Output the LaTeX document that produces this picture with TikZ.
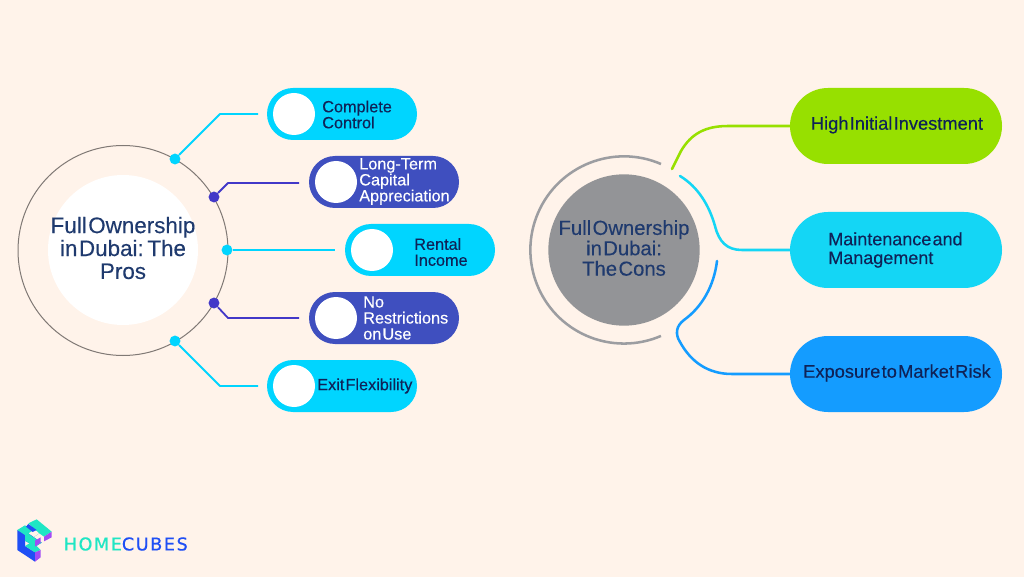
\documentclass[tikz,border=0pt]{standalone}
\usepackage{fontspec}
\setmainfont[WordSpace=0.25,FakeBold=0.25]{Liberation Sans}
\newfontfamily\logofont[LetterSpace=9,FakeBold=0.6]{DejaVu Sans}
\definecolor{bgc}{HTML}{FFF3EA}
\definecolor{cyanc}{HTML}{00D5FF}
\definecolor{indigoc}{HTML}{3F4FBF}
\definecolor{dotind}{HTML}{4238C8}
\definecolor{navy}{HTML}{1F3A6E}
\definecolor{ink}{HTML}{0F2257}
\definecolor{greyc}{HTML}{939497}
\definecolor{arcc}{HTML}{9C9DA1}
\definecolor{limec}{HTML}{97E000}
\definecolor{skyc}{HTML}{14D6F5}
\definecolor{bluec}{HTML}{149CFF}
\definecolor{teal}{HTML}{1FE6C4}
\definecolor{royal}{HTML}{1F4FF5}
\definecolor{violet}{HTML}{A24BF5}
\newcommand{\fs}[2]{\fontsize{#1}{#2}\selectfont}
\tikzset{
 x=0.75pt,y=-0.75pt,
 pillshape/.style={rounded rectangle,draw=none,minimum width=112.5pt,minimum height=39pt,inner sep=0pt},
 bigpill/.style={rounded rectangle,draw=none,minimum width=159pt,minimum height=57pt,inner sep=0pt},
 knob/.style={circle,fill=white,draw=none,minimum size=31.5pt,inner sep=0pt},
 dotn/.style={circle,draw=none,minimum size=8.2pt,inner sep=0pt},
 conn/.style={line width=1.35pt,line join=round},
 curve/.style={line width=1.9pt,line cap=round},
 pilltext/.style={anchor=west,align=left,inner sep=0pt,font=\fs{12.2}{12}},
 bigtext/.style={align=left,inner sep=0pt,font=\fs{13.7}{14}},
 logoface/.style={draw=none},
}
\usetikzlibrary{shapes.misc}
\begin{document}
\begin{tikzpicture}
\fill[bgc] (0,0) rectangle (1024,577);
\useasboundingbox (0,0) rectangle (1024,577);
% left hub
\node[circle,draw=black!50!bgc,line width=0.75pt,minimum size=157.5pt,inner sep=0pt] (ring) at (123,250.5) {};
\node[circle,fill=white,minimum size=112.5pt,inner sep=0pt] (hubL) at (123,250) {};
\node[align=center,inner sep=0pt,text=navy,font=\fs{16.8}{17.2}] (hubLt) at (123,248)
 {Full Ownership\\in Dubai: The\\Pros};
% pills
\node[pillshape,fill=cyanc] (p1) at (342,114) {};
\node[pillshape,fill=indigoc] (p2) at (384,182) {};
\node[pillshape,fill=cyanc] (p3) at (420,250) {};
\node[pillshape,fill=indigoc] (p4) at (384,318) {};
\node[pillshape,fill=cyanc] (p5) at (342,386) {};
\node[knob] (k1) at (294,114) {};
\node[knob] (k2) at (336,182) {};
\node[knob] (k3) at (372,250) {};
\node[knob] (k4) at (336,318) {};
\node[knob] (k5) at (294,386) {};
\node[pilltext,text=ink] (t1) at (322,114.5) {Complete\\Control};
\node[pilltext,text=white] (t2) at (359,181.5) {Long-Term\\Capital\\Appreciation};
\node[pilltext,text=ink] (t3) at (414,252) {Rental\\Income};
\node[pilltext,text=white] (t4) at (363,318) {No\\Restrictions\\on Use};
\node[pilltext,text=ink] (t5) at (317,386) {Exit Flexibility};
% dots
\node[dotn,fill=cyanc] (d1) at (175,159) {};
\node[dotn,fill=dotind] (d2) at (214,197) {};
\node[dotn,fill=cyanc] (d3) at (227,250) {};
\node[dotn,fill=dotind] (d4) at (214,303) {};
\node[dotn,fill=cyanc] (d5) at (175,341) {};
\coordinate (e1) at (258,114);
\coordinate (e2) at (299,183);
\coordinate (e3) at (335,250);
\coordinate (e4) at (299,318);
\coordinate (e5) at (258,386);
\draw[conn,cyanc] (d1) -- (220,114) -- (e1);
\draw[conn,dotind] (d2) -- (228,183) -- (e2);
\draw[conn,cyanc] (d3) -- (e3);
\draw[conn,dotind] (d4) -- (228,318) -- (e4);
\draw[conn,cyanc] (d5) -- (220,386) -- (e5);
% right hub
\node[circle,fill=greyc,minimum size=113.5pt,inner sep=0pt] (hubR) at (624,250) {};
\node[align=center,inner sep=0pt,text=navy,font=\fs{15.2}{15.3}] (hubRt) at (624,248)
 {Full Ownership\\in Dubai:\\The Cons};
\draw[arcc,line width=1.9pt] (661,164) arc[start angle=-66.7,end angle=-293.3,radius=93.6];
\node[bigpill,fill=limec] (r1) at (896,126) {};
\node[bigpill,fill=skyc] (r2) at (896,250) {};
\node[bigpill,fill=bluec] (r3) at (896,374) {};
\node[bigtext,text=ink] (rt1) at (897,125) {High Initial Investment};
\node[bigtext,text=ink,anchor=west,font=\fs{13.5}{14}] (rt2) at (828,250) {Maintenance and\\Management};
\node[bigtext,text=ink] (rt3) at (897,373) {Exposure to Market Risk};
\coordinate (c1) at (672,169);
\coordinate (c2) at (680,176);
\coordinate (c3) at (717,261);
\draw[curve,limec] (c1) -- (681,151) .. controls (691,134) and (705,126) .. (728,126) -- (r1.west);
\draw[curve,skyc] (c2) .. controls (698,187) and (709,205) .. (715,226) .. controls (719,242) and (727,250) .. (742,250) -- (r2.west);
\draw[curve,bluec] (c3) .. controls (714,286) and (702,307) .. (684,320) .. controls (676,326) and (675,334) .. (680,342) .. controls (691,362) and (708,374) .. (732,374) -- (r3.west);
% logo (coordinates are those of a 3x crop at y offset 500)
\begin{scope}[x=0.25pt,y=-0.25pt,yshift=-375pt]
\fill[royal,logoface] (52,90) -- (52,150) -- (105,185) -- (105,157) -- (75,138) -- (75,122) -- (105,140) -- (125,128) -- (85,100) -- cycle;
\fill[teal,logoface] (52,90) -- (75,76) -- (98,92) -- (85,100) -- (100,112) -- (118,100) -- (85,70) -- (110,58) -- (155,95) -- (132,110) -- (118,100) -- (100,112) -- (125,128) -- (105,140) -- (75,122) -- (75,105) -- cycle;
\fill[teal,logoface] (75,138) -- (97,125) -- (122,150) -- (105,157) -- cycle;
\fill[royal,logoface] (85,72) -- (110,90) -- (98,96) -- (78,80) -- cycle;
\fill[violet,logoface] (132,110) -- (155,95) -- (155,112) -- (132,124) -- cycle;
\fill[violet,logoface] (105,157) -- (122,150) -- (122,172) -- (105,185) -- cycle;
\fill[violet,logoface] (105,122) -- (122,112) -- (122,128) -- (105,140) -- cycle;
\end{scope}
\node[anchor=west,inner sep=0pt,font=\fs{13.2}{13}\logofont] (lg) at (63.5,544)
 {\textcolor{teal}{HOME}\textcolor{royal}{CUBES}};
\end{tikzpicture}
\end{document}
